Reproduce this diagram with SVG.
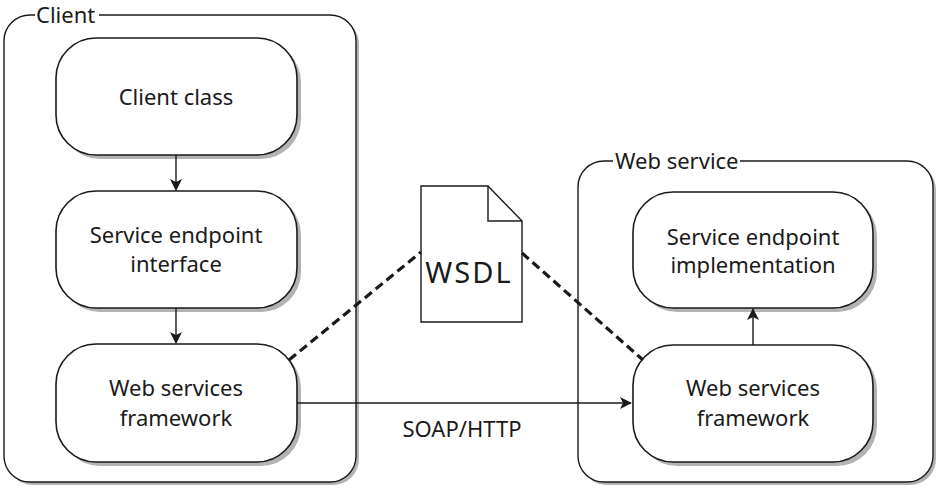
<svg xmlns="http://www.w3.org/2000/svg" width="940" height="493" viewBox="0 0 940 493">
<style>
.shadow{fill:#b3b3b3;stroke:none}
.box{fill:#fff;stroke:#1a1a1a;stroke-width:1.6}
.cont{fill:#fff;stroke:#1a1a1a;stroke-width:1.4}
.t{font-family:"Noto Sans","Open Sans",sans-serif;font-size:22px;fill:#1a1a1a;text-anchor:middle}
.lbl{font-family:"Noto Sans","Open Sans",sans-serif;font-size:22px;fill:#1a1a1a}
.arrow{stroke:#1a1a1a;stroke-width:1.4;fill:none}
.dash{stroke:#1a1a1a;stroke-width:3.2;fill:none;stroke-dasharray:9 5}
</style>
<defs>
<marker id="ah" viewBox="0 0 12 12" refX="11" refY="6" markerWidth="12" markerHeight="12" markerUnits="userSpaceOnUse" orient="auto">
<path d="M0,0 L12,6 L0,12 L3,6 Z" fill="#1a1a1a"/>
</marker>
</defs>
<rect width="940" height="493" fill="#fff"/>

<g id="client">
<rect class="shadow" x="7" y="18" width="352" height="467" rx="26"/>
<rect class="cont" x="4" y="15" width="352" height="467" rx="26"/>
<rect x="35" y="2" width="64" height="24" fill="#fff"/>
<text class="lbl" x="36" y="23">Client</text>
</g>

<g id="webservice">
<rect class="shadow" x="581" y="164" width="355" height="321" rx="26"/>
<rect class="cont" x="578" y="161" width="355" height="321" rx="26"/>
<rect x="613" y="148" width="127" height="24" fill="#fff"/>
<text class="lbl" x="615" y="169">Web service</text>
</g>

<g id="client-class">
<rect class="shadow" x="60" y="42" width="241" height="117" rx="40"/>
<rect class="box" x="56" y="38" width="241" height="117" rx="40"/>
<text class="t" x="176" y="105">Client class</text>
</g>

<g id="sei">
<rect class="shadow" x="60" y="195" width="241" height="117" rx="40"/>
<rect class="box" x="56" y="191" width="241" height="117" rx="40"/>
<text class="t" x="176" y="243">Service endpoint</text>
<text class="t" x="176" y="272">interface</text>
</g>

<g id="client-wsf">
<rect class="shadow" x="60" y="348" width="241" height="118" rx="40"/>
<rect class="box" x="56" y="344" width="241" height="118" rx="40"/>
<text class="t" x="176" y="396">Web services</text>
<text class="t" x="176" y="426">framework</text>
</g>

<g id="wsdl">
<path d="M421,186 L488,186 L522,221 L522,322 L421,322 Z" fill="#fff" stroke="#1a1a1a" stroke-width="1.4"/>
<path d="M488,186 L488,221 L522,221" fill="none" stroke="#1a1a1a" stroke-width="1.4"/>
<text class="t" x="469" y="283" style="font-size:29px;letter-spacing:2px">WSDL</text>
</g>

<g id="sei-impl">
<rect class="shadow" x="637" y="196" width="240" height="116" rx="40"/>
<rect class="box" x="633" y="192" width="240" height="116" rx="40"/>
<text class="t" x="753" y="245">Service endpoint</text>
<text class="t" x="753" y="273">implementation</text>
</g>

<g id="ws-wsf">
<rect class="shadow" x="637" y="349" width="240" height="117" rx="40"/>
<rect class="box" x="633" y="345" width="240" height="117" rx="40"/>
<text class="t" x="753" y="396">Web services</text>
<text class="t" x="753" y="426">framework</text>
</g>

<g id="connectors">
<line class="arrow" x1="176" y1="155" x2="176" y2="190" marker-end="url(#ah)"/>
<line class="arrow" x1="176" y1="308" x2="176" y2="343" marker-end="url(#ah)"/>
<line class="arrow" x1="297" y1="403" x2="631" y2="403" marker-end="url(#ah)"/>
<line class="arrow" x1="753" y1="345" x2="753" y2="309" marker-end="url(#ah)"/>
<line class="dash" x1="289" y1="360" x2="421" y2="252"/>
<line class="dash" x1="522" y1="253" x2="643" y2="360"/>
<text class="t" x="462" y="437">SOAP/HTTP</text>
</g>
</svg>
